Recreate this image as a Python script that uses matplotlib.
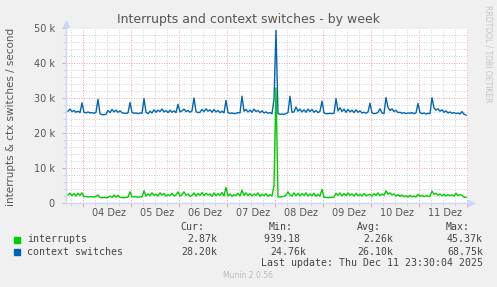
import numpy as np
import matplotlib
matplotlib.use("Agg")
from matplotlib import pyplot as plt
from matplotlib.ticker import FuncFormatter, MultipleLocator

W, H = 497, 287
OUT = 'out.png'

# hourly averages in thousands/s, samples at hh:30, Dec 03 16:30 .. Dec 11 23:30
irq_dec03 = [2.3, 2.8, 2.1, 2.7, 2.0, 2.8, 2.2, 2.9]
irq_dec04 = [1.8, 1.9, 1.7, 1.8, 1.8, 1.7, 1.9, 2.3, 1.6, 1.5, 1.6, 1.5,
             1.6, 2.0, 1.6, 2.3, 1.7, 2.2, 1.6, 1.6, 1.5, 1.6, 1.7, 3.2]
irq_dec05 = [1.8, 1.7, 1.9, 1.6, 1.8, 1.7, 3.5, 2.0, 2.6, 2.1, 2.9, 2.2,
             2.5, 2.0, 2.9, 2.3, 2.7, 2.0, 2.4, 2.1, 2.8, 2.0, 2.3, 3.2]
irq_dec06 = [2.0, 2.4, 3.2, 2.2, 2.6, 1.9, 2.2, 2.9, 2.0, 2.7, 2.2, 3.0,
             2.1, 2.8, 2.3, 2.6, 1.9, 2.9, 2.1, 2.7, 2.2, 3.0, 2.0, 4.5]
irq_dec07 = [2.0, 2.6, 1.9, 2.4, 2.1, 2.8, 2.0, 3.7, 2.2, 2.9, 2.1, 2.7,
             2.0, 2.6, 2.2, 2.9, 1.9, 2.5, 2.1, 2.7, 1.9, 2.4, 2.0, 5.0]
irq_dec08 = [33.0, 1.8, 1.7, 1.8, 1.9, 2.2, 3.2, 2.3, 2.0, 2.9, 2.1, 2.8,
             2.0, 2.7, 2.2, 2.9, 2.0, 2.6, 2.1, 2.8, 1.9, 2.5, 2.0, 3.9]
irq_dec09 = [1.6, 1.6, 1.5, 1.6, 1.6, 1.7, 2.8, 2.2, 2.9, 2.0, 2.7, 2.1,
             2.9, 2.2, 2.6, 2.0, 2.8, 2.1, 2.5, 2.0, 2.7, 2.1, 2.3, 2.5]
irq_dec10 = [2.0, 2.7, 2.2, 2.9, 2.1, 2.6, 2.2, 3.5, 2.5, 2.9, 2.3, 2.6,
             2.0, 2.4, 1.9, 2.3, 1.8, 2.1, 1.7, 2.2, 1.8, 2.0, 1.7, 2.5]
irq_dec11 = [1.9, 2.2, 1.8, 2.1, 1.9, 2.0, 3.4, 2.5, 2.8, 2.2, 2.6, 2.1,
             2.5, 2.0, 2.4, 2.1, 2.3, 2.0, 2.8, 2.1, 2.4, 2.2, 1.7, 1.6]

ctx_dec03 = [26.3, 26.9, 26.2, 26.5, 26.0, 26.3, 25.9, 28.7]
ctx_dec04 = [26.0, 25.8, 26.1, 25.8, 25.9, 25.7, 26.0, 29.7, 25.6, 25.3, 25.3, 25.4,
             26.5, 25.9, 26.8, 26.1, 26.6, 26.0, 26.4, 25.9, 25.7, 25.7, 25.8, 28.8]
ctx_dec05 = [26.0, 25.7, 25.8, 25.6, 25.8, 25.7, 29.9, 26.0, 25.6, 26.3, 25.8, 26.7,
             26.0, 26.6, 26.2, 26.9, 26.1, 26.5, 25.9, 26.6, 26.0, 26.4, 25.9, 28.3]
ctx_dec06 = [26.1, 26.4, 26.9, 26.2, 26.5, 26.0, 26.4, 30.1, 26.2, 25.9, 26.0, 26.8,
             26.2, 27.0, 26.3, 26.7, 26.0, 26.8, 26.1, 26.5, 25.9, 26.3, 25.8, 29.4]
ctx_dec07 = [25.9, 25.7, 25.8, 25.6, 25.7, 25.9, 25.8, 30.6, 26.3, 26.8, 26.1, 26.6,
             26.0, 26.9, 26.2, 26.5, 25.9, 26.4, 25.8, 26.1, 25.7, 25.9, 25.6, 29.7]
ctx_dec08 = [49.5, 25.6, 25.4, 25.5, 25.4, 25.6, 25.9, 30.6, 26.0, 26.1, 27.5, 26.3,
             26.9, 26.1, 26.7, 26.0, 26.9, 26.2, 26.8, 26.0, 26.5, 25.9, 26.3, 29.2]
ctx_dec09 = [25.8, 25.6, 25.6, 25.7, 25.6, 25.7, 29.9, 26.4, 27.3, 26.2, 26.9, 26.0,
             26.8, 26.1, 26.6, 25.9, 26.7, 26.0, 26.4, 25.8, 26.0, 25.7, 26.1, 28.6]
ctx_dec10 = [25.8, 25.6, 25.7, 26.0, 27.0, 25.8, 25.6, 30.2, 27.4, 26.5, 27.0, 26.2,
             26.6, 25.9, 26.0, 25.7, 25.9, 25.6, 25.8, 25.7, 25.9, 25.6, 25.8, 28.5]
ctx_dec11 = [25.9, 25.6, 25.8, 25.5, 25.7, 25.6, 30.2, 27.2, 26.6, 27.0, 26.3, 26.7,
             26.0, 26.4, 25.8, 26.1, 25.7, 25.9, 25.6, 25.8, 25.5, 26.2, 25.4, 25.2]

day_labels = ['04 Dez', '05 Dez', '06 Dez', '07 Dez', '08 Dez', '09 Dez', '10 Dez', '11 Dez']

series_names = ['interrupts', 'context switches']
series_colors = ['#00cc00', '#0066b3']
stat_heads = ['Cur:', 'Min:', 'Avg:', 'Max:']
irq_stats = ['2.87k', '939.18 ', '2.26k', '45.37k']
ctx_stats = ['28.20k', '24.76k', '26.10k', '68.75k']
last_update = 'Last update: Thu Dec 11 23:30:04 2025'


def fx(x):
    return x / W


def fy(y):
    return 1 - y / H


interrupts = 1000 * np.array(irq_dec03 + irq_dec04 + irq_dec05 + irq_dec06 + irq_dec07
                             + irq_dec08 + irq_dec09 + irq_dec10 + irq_dec11)
ctx = 1000 * np.array(ctx_dec03 + ctx_dec04 + ctx_dec05 + ctx_dec06 + ctx_dec07
                      + ctx_dec08 + ctx_dec09 + ctx_dec10 + ctx_dec11)
hours = np.arange(len(ctx)) - 7.5  # hours since Dec 04 00:00

font_c = '#555555'
axis_c = '#cfd6f8'
minor_c = '#d2d2d2'
major_c = '#eaa8a8'

fig = plt.figure(figsize=(W / 100, H / 100), dpi=100, facecolor='#f0f0f0')
ax = fig.add_axes([fx(66), fy(203), fx(468) - fx(66), fy(28.5) - fy(203)])
ax.set_facecolor('white')

ax.plot(hours, ctx, color=series_colors[1], lw=1.0, zorder=3)
ax.plot(hours, interrupts, color=series_colors[0], lw=1.0, zorder=4)

ax.set_xlim(-8.5, 192.5)
ax.set_ylim(0, 50000)

ax.xaxis.set_major_locator(MultipleLocator(24))
ax.xaxis.set_minor_locator(MultipleLocator(6))
ax.yaxis.set_major_locator(MultipleLocator(10000))
ax.yaxis.set_minor_locator(MultipleLocator(2000))
ax.set_xticklabels([])
ax.yaxis.set_major_formatter(FuncFormatter(lambda v, p: '0' if v == 0 else f'{v / 1000:.0f} k'))

ax.grid(which='minor', color=minor_c, lw=0.72, ls=(0, (1, 1.5)))
ax.grid(which='major', color=major_c, lw=0.72, ls=(0, (1, 1.5)))
ax.set_axisbelow(True)

ax.tick_params(which='major', length=3, width=0.72, color=major_c, labelsize=7,
               labelcolor=font_c, pad=5)
ax.tick_params(which='minor', length=2, width=0.72, color=minor_c)

for s in ax.spines.values():
    s.set_visible(False)
ax.plot([0, 0], [0, 1.02], transform=ax.transAxes, color=axis_c, lw=1, clip_on=False)
ax.plot([0, 1.0], [0, 0], transform=ax.transAxes, color=axis_c, lw=1, clip_on=False)
ax.plot(0, 1.025, marker='^', ms=4, color=axis_c, transform=ax.transAxes, clip_on=False)
ax.plot(1.007, 0, marker='>', ms=4, color=axis_c, transform=ax.transAxes, clip_on=False)

for i, lab in enumerate(day_labels):
    ax.text(13 + 24 * i, -0.055, lab, transform=ax.get_xaxis_transform(),
            ha='center', va='center', fontsize=7, color=font_c)

fig.text(0.5, fy(19), 'Interrupts and context switches - by week', ha='center', va='center',
         fontsize=9, color=font_c)
fig.text(fx(11), fy(117), 'interrupts & ctx switches / second', rotation=90,
         ha='center', va='center', fontsize=7.5, color=font_c)
fig.text(fx(488), fy(5), 'RRDTOOL / TOBI OETIKER', rotation=270, ha='center', va='top',
         fontsize=5.5, color='#c4c4c4')

mono = dict(family='DejaVu Sans Mono', fontsize=7.1, color='#444444', va='center')
for txt, xr in zip(stat_heads, [204, 293, 381, 470]):
    fig.text(fx(xr), fy(227.5), txt, ha='right', **mono)
for row_y, name, col, stats in zip([239.5, 252], series_names, series_colors, [irq_stats, ctx_stats]):
    fig.patches.append(plt.Rectangle((fx(14), fy(row_y + 3)), fx(5.5), fy(0) - fy(6),
                                     transform=fig.transFigure, color=col, figure=fig))
    fig.text(fx(27), fy(row_y), name, ha='left', **mono)
    for txt, xr in zip(stats, [217, 306, 393, 483]):
        fig.text(fx(xr), fy(row_y), txt, ha='right', **mono)
fig.text(fx(483), fy(263), last_update, ha='right', **mono)
fig.text(fx(248), fy(276), 'Munin 2.0.56', ha='center', va='center', fontsize=5.5, color='#bbbbbb')

fig.savefig(OUT, dpi=100, facecolor=fig.get_facecolor())
